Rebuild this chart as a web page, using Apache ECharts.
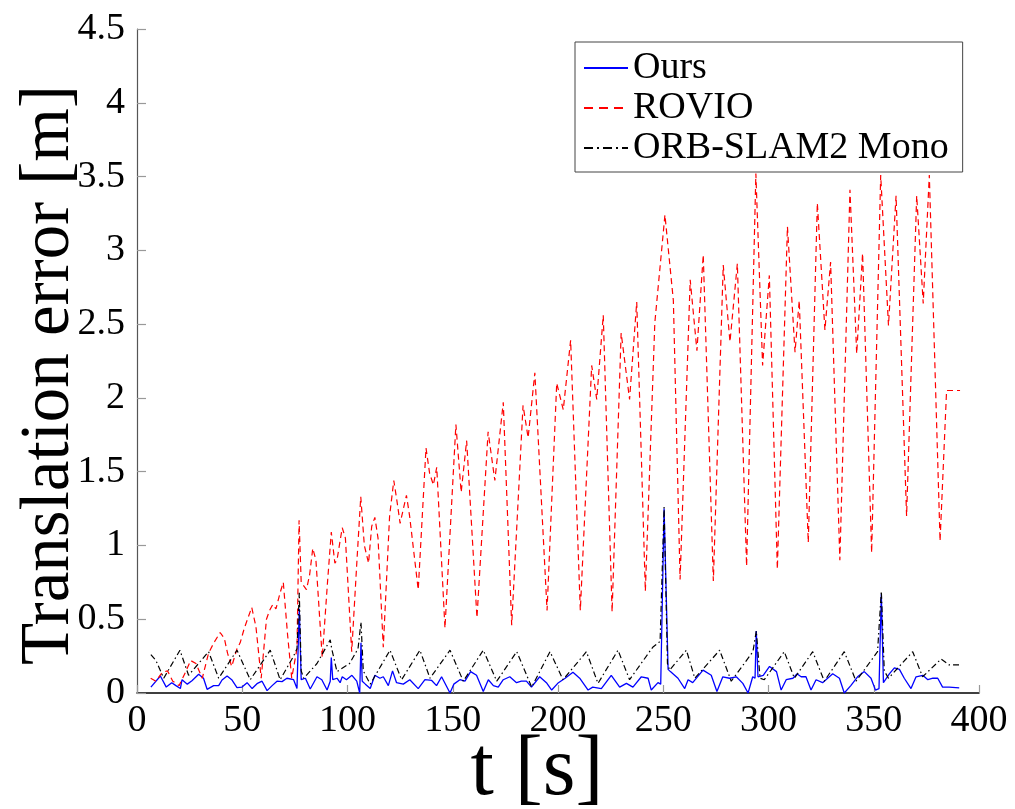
<!DOCTYPE html>
<html>
<head>
<meta charset="utf-8">
<script src="https://cdn.jsdelivr.net/npm/echarts@6/dist/echarts.min.js"></script>
<style>
  html, body { margin: 0; padding: 0; background: #ffffff; }
  #chart { width: 1015px; height: 809px; }
</style>
</head>
<body>
<div id="chart"></div>
<script>
// Translation error over time for three estimators

const seriesNames = ['Ours', 'ROVIO', 'ORB-SLAM2 Mono'];

// Ours
const oursT = [6.6, 11.1, 13.9, 16.5, 18.5, 20.6, 21.4, 23.9, 26.1, 29.3, 31.6, 33.3, 36.4, 38.8, 40.4, 42.8, 45, 47.5, 49.9, 52.3, 54.7, 57, 59.4, 61.8, 64.2, 66.5, 68.9, 71.2, 74.4, 76, 77.1, 78, 80, 82.3, 85.5, 87.8, 90.3, 91.8, 92.3, 93, 95, 96.5, 97.5, 99.5, 102.1, 104.4, 105.8, 106.4, 107, 108.5, 110.8, 113, 115.4, 117, 119.4, 121.4, 123.3, 126.5, 129.6, 133.6, 136.8, 140, 142.3, 144.7, 148.7, 150.5, 153.4, 155.8, 158.5, 161.3, 164.5, 166.9, 169.3, 171.6, 174, 177.1, 180.3, 182.6, 185, 187.4, 191.3, 194.5, 197, 200.2, 203.4, 207.1, 210.3, 214.3, 216.5, 220.6, 225.3, 229.3, 232.5, 235.6, 239.6, 242.8, 244.3, 247.5, 248.8, 250.4, 252.3, 253.4, 257, 260.2, 261.8, 264, 268.9, 272.8, 275.5, 278.3, 281.5, 284.7, 287.8, 290.3, 292.5, 293.6, 294.2, 295, 297.5, 300.5, 303.8, 306, 308.4, 311.6, 313.5, 315.5, 317.8, 320.2, 322.6, 325.7, 330.5, 333.7, 336, 339.1, 342.3, 345.5, 348.7, 350.8, 352.5, 353.6, 354.6, 357.4, 359.8, 362.2, 364.5, 367.7, 370.1, 373.3, 375.7, 378.1, 380.4, 382.7, 385.8, 390.6];
const oursV = [0.04, 0.115, 0.04, 0.07, 0.05, 0.03, 0.09, 0.06, 0.083, 0.127, 0.1, 0.025, 0.05, 0.05, 0.088, 0.115, 0.09, 0.036, 0.04, 0.07, 0.03, 0.063, 0.08, 0.016, 0.05, 0.08, 0.077, 0.1, 0.09, 0.03, 0.57, 0.09, 0.1, 0.027, 0.11, 0.09, 0.02, 0.08, 0.24, 0.09, 0.1, 0.07, 0.11, 0.09, 0.12, 0.08, 0.0, 0.34, 0.08, 0.06, 0.03, 0.12, 0.1, 0.11, 0.05, 0.15, 0.07, 0.06, 0.09, 0.03, 0.09, 0.085, 0.05, 0.11, 0.0, 0.06, 0.09, 0.08, 0.145, 0.12, 0.01, 0.09, 0.05, 0.04, 0.09, 0.11, 0.07, 0.08, 0.08, 0.04, 0.11, 0.07, 0.02, 0.07, 0.1, 0.14, 0.1, 0.02, 0.04, 0.03, 0.12, 0.04, 0.065, 0.04, 0.11, 0.1, 0.02, 0.07, 0.06, 1.25, 0.16, 0.145, 0.1, 0.03, 0.09, 0.07, 0.155, 0.12, 0.01, 0.11, 0.1, 0.11, 0.065, 0.0, 0.11, 0.1, 0.42, 0.11, 0.12, 0.18, 0.145, 0.02, 0.09, 0.1, 0.13, 0.11, 0.11, 0.02, 0.09, 0.07, 0.13, 0.1, 0.0, 0.05, 0.11, 0.145, 0.1, 0.02, 0.03, 0.67, 0.07, 0.13, 0.17, 0.16, 0.1, 0.03, 0.11, 0.12, 0.09, 0.1, 0.1, 0.04, 0.04, 0.035];

// ROVIO
const rovioT = [6.5, 9, 12, 14.5, 17, 20, 23, 25.5, 28, 31, 34, 36.5, 39.5, 41.5, 43, 45, 47.5, 49, 51, 54.5, 56.5, 59, 61.5, 63, 64.5, 66, 68, 69.5, 71.5, 73.5, 76, 77, 78, 80.5, 82, 83.5, 85, 88, 90.5, 92.3, 94, 95, 97.5, 99, 102, 104.5, 106.3, 108, 110, 111.5, 113, 114.5, 117, 120, 122, 123.5, 125, 128, 129.5, 133.6, 137.3, 139, 140.8, 142.4, 146.3, 151.5, 154, 156.6, 161.5, 166.8, 170, 174, 178, 183.4, 185.8, 189, 194.8, 199.4, 202.5, 206, 210.6, 216, 218.4, 221.5, 225.7, 230, 234, 237.4, 241.5, 246, 250.8, 254.8, 258, 262.8, 266, 269, 273.8, 278.5, 281.7, 285.2, 289.6, 294, 297.2, 300.4, 304.2, 309, 312.6, 314.6, 318.9, 323.2, 326.8, 329.5, 333.9, 338.7, 341.9, 344.7, 349, 353.3, 357, 360.6, 365.6, 370.4, 373.5, 376.4, 381.5, 384.6, 391];
const rovioV = [0.1, 0.08, 0.14, 0.15, 0.08, 0.05, 0.14, 0.22, 0.2, 0.1, 0.27, 0.34, 0.41, 0.37, 0.27, 0.18, 0.3, 0.34, 0.44, 0.58, 0.45, 0.1, 0.5, 0.56, 0.6, 0.57, 0.68, 0.75, 0.4, 0.1, 0.3, 1.17, 0.75, 0.7, 0.8, 0.98, 0.9, 0.24, 0.75, 1.09, 0.88, 0.9, 1.12, 1.05, 0.28, 0.9, 1.33, 1.0, 0.88, 1.13, 1.19, 1.05, 0.31, 1.2, 1.44, 1.3, 1.15, 1.34, 1.2, 0.7, 1.66, 1.49, 1.41, 1.53, 0.44, 1.82, 1.36, 1.71, 0.51, 1.77, 1.44, 1.97, 0.46, 1.95, 1.73, 2.17, 0.56, 2.1, 1.92, 2.39, 0.56, 2.22, 1.99, 2.56, 0.55, 2.44, 1.99, 2.65, 0.69, 2.51, 3.24, 2.66, 0.77, 2.8, 2.32, 2.97, 0.76, 2.9, 2.38, 2.91, 0.86, 3.52, 2.22, 2.83, 0.84, 3.16, 2.31, 2.66, 1.02, 3.32, 2.46, 2.92, 0.9, 3.41, 2.3, 2.98, 0.95, 3.51, 2.49, 3.37, 1.2, 3.37, 2.64, 3.51, 1.03, 2.05, 2.05];

// ORB-SLAM2 Mono
const orbT = [6.6, 9, 12.7, 20.4, 24.5, 34, 38.8, 47.5, 53.8, 63.3, 68, 74.4, 76, 77.1, 78, 79.2, 85.5, 91.8, 92.5, 95, 101, 105, 106.4, 107.5, 110.8, 120.2, 125.7, 134.4, 139.2, 148.7, 155, 164.5, 170.9, 180.4, 187.5, 196.2, 202.4, 213.5, 219, 228.5, 234, 245, 248.5, 250.4, 252, 253, 261, 265, 276.8, 282.3, 292.6, 294.2, 296, 298, 307.5, 312.3, 321, 326.5, 336, 341.6, 351.8, 353.6, 355, 357, 368.5, 373.2, 382, 385.8, 390.6];
const orbV = [0.26, 0.22, 0.1, 0.29, 0.12, 0.28, 0.1, 0.29, 0.09, 0.29, 0.09, 0.25, 0.3, 0.68, 0.15, 0.1, 0.2, 0.36, 0.3, 0.145, 0.2, 0.3, 0.48, 0.15, 0.06, 0.29, 0.09, 0.29, 0.1, 0.29, 0.08, 0.29, 0.08, 0.28, 0.04, 0.28, 0.09, 0.28, 0.065, 0.29, 0.09, 0.31, 0.35, 1.26, 0.2, 0.155, 0.29, 0.1, 0.29, 0.08, 0.28, 0.42, 0.1, 0.09, 0.28, 0.1, 0.28, 0.08, 0.28, 0.08, 0.28, 0.69, 0.15, 0.1, 0.28, 0.11, 0.23, 0.19, 0.19];

const pairs = (ts, vs) => ts.map((t, i) => [t, vs[i]]);

const FONT = 'Liberation Serif';
const DASH = [6, 4];
const DASH_DOT = [6, 3, 1.5, 3];

const chart = echarts.init(document.getElementById('chart'), null, { renderer: 'canvas' });

chart.setOption({
  animation: false,
  backgroundColor: '#ffffff',
  textStyle: { fontFamily: FONT, color: '#000' },
  grid: { left: 137, right: 36, top: 29, bottom: 116, containLabel: false, outerBoundsMode: 'none' },
  legend: {
    orient: 'vertical',
    left: 575,
    top: 42,
    padding: [7, 14, 5, 8],
    itemWidth: 44,
    itemHeight: 14,
    itemGap: 2,
    backgroundColor: '#ffffff',
    borderColor: '#444444',
    borderWidth: 1,
    itemStyle: { opacity: 0 },
    textStyle: { fontFamily: FONT, fontSize: 38, color: '#000', lineHeight: 34 },
    data: [
      { name: seriesNames[0] },
      { name: seriesNames[1], lineStyle: { type: [9, 6] } },
      { name: seriesNames[2], lineStyle: { type: [9, 4, 2, 4] } }
    ]
  },
  xAxis: {
    type: 'value',
    min: 0,
    max: 400,
    interval: 50,
    name: 't [s]',
    nameLocation: 'middle',
    nameGap: 37,
    nameMoveOverlap: false,
    nameTextStyle: { fontFamily: FONT, fontSize: 84, color: '#000', padding: [0, 42, 0, 0] },
    axisLine: { show: true, lineStyle: { color: '#000', width: 1.5 } },
    axisTick: { show: true, inside: true, length: 8, lineStyle: { color: '#999', width: 1.2 } },
    axisLabel: { fontFamily: FONT, fontSize: 38, color: '#000', margin: 9 },
    splitLine: { show: false }
  },
  yAxis: {
    type: 'value',
    min: 0,
    max: 4.5,
    interval: 0.5,
    name: 'Translation error [m]',
    nameLocation: 'middle',
    nameGap: 53,
    nameRotate: 90,
    nameMoveOverlap: false,
    nameTextStyle: { fontFamily: FONT, fontSize: 69, color: '#000', padding: [0, 28, 0, 0] },
    axisLine: { show: true, lineStyle: { color: '#555', width: 1.2 } },
    axisTick: { show: true, inside: true, length: 9, lineStyle: { color: '#999', width: 1.2 } },
    axisLabel: { fontFamily: FONT, fontSize: 38, color: '#000', margin: 12 },
    splitLine: { show: false }
  },
  series: [
    {
      name: seriesNames[0],
      type: 'line',
      data: pairs(oursT, oursV),
      symbol: 'none',
      lineStyle: { color: '#0000ff', width: 1.3, type: 'solid' },
      itemStyle: { color: '#0000ff' },
      z: 2
    },
    {
      name: seriesNames[1],
      type: 'line',
      data: pairs(rovioT, rovioV),
      symbol: 'none',
      lineStyle: { color: '#ff0000', width: 1.2, type: DASH },
      itemStyle: { color: '#ff0000' },
      z: 3
    },
    {
      name: seriesNames[2],
      type: 'line',
      data: pairs(orbT, orbV),
      symbol: 'none',
      lineStyle: { color: '#000000', width: 1.2, type: DASH_DOT },
      itemStyle: { color: '#000000' },
      z: 4
    }
  ]
});
</script>
</body>
</html>
